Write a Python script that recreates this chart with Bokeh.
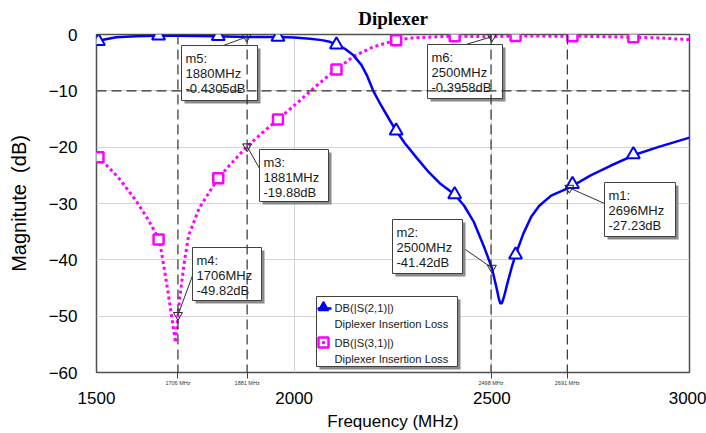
import numpy as np
from bokeh.plotting import figure
from bokeh.models import (Range1d, LinearAxis, FixedTicker, Span,
                          PrintfTickFormatter)
from bokeh.core.properties import value
from bokeh.embed import file_html
from bokeh.resources import INLINE

# ---------------- data ----------------
x_ticks = [1500, 2000, 2500, 3000]
y_ticks = [0, -10, -20, -30, -40, -50, -60]

# DB(|S(2,1)|)  (blue, solid, triangles)
s21_f = [1500, 1520, 1550, 1600, 1650, 1700, 1800, 1880, 1960, 2000, 2040, 2070,
         2090, 2107, 2130, 2150, 2170, 2185, 2200, 2220, 2240, 2258, 2280, 2310,
         2340, 2370, 2406, 2430, 2454, 2482, 2500, 2512, 2518, 2522, 2526, 2531,
         2540, 2550, 2560, 2580, 2600, 2620, 2650, 2696, 2750, 2800, 2860, 2920, 3000]
s21_db = [-1.3, -0.9, -0.5, -0.3, -0.2, -0.2, -0.3, -0.43, -0.45, -0.55, -0.75, -1.0,
          -1.3, -1.8, -2.6, -3.7, -5.4, -7.4, -10.0, -12.6, -15.0, -17.1, -19.3, -21.9,
          -24.4, -26.5, -28.4, -30.4, -33.2, -38.0, -41.4, -45.0, -47.0, -47.8, -47.6, -46.5,
          -44.0, -41.4, -39.1, -35.3, -32.3, -30.4, -28.6, -27.2, -25.0, -23.3, -21.4, -20.0, -18.3]

# DB(|S(3,1)|)  (magenta, dotted, squares)
s31_f = [1500, 1530, 1560, 1600, 1630, 1659, 1670, 1680, 1690, 1700, 1706, 1712,
         1722, 1733, 1760, 1808, 1850, 1881, 1920, 1959, 2000, 2050, 2080, 2107,
         2150, 2200, 2258, 2300, 2400, 2500, 2560, 2650, 2704, 2800, 2858, 2920, 3000]
s31_db = [-21.8, -23.5, -25.8, -29.5, -32.8, -36.4, -41.0, -45.3, -50.0, -54.7, -49.8, -46.0,
          -40.5, -35.7, -30.8, -25.5, -22.2, -19.9, -17.4, -15.1, -12.6, -9.5, -7.7, -6.2,
          -3.9, -2.2, -1.0, -0.6, -0.3, -0.4, -0.25, -0.3, -0.3, -0.4, -0.5, -0.6, -0.9]

# symbol positions on the traces
sym_f = [1505, 1657, 1808, 1959, 2107, 2258, 2406, 2560, 2704, 2858]
s21_sym_db = [-1.2, -0.2, -0.3, -0.45, -1.8, -17.1, -28.4, -39.1, -26.6, -21.3]
s31_sym_db = [-21.8, -36.4, -25.5, -15.1, -6.2, -1.0, -0.3, -0.25, -0.3, -0.5]

# markers
mk_names = ["m1", "m2", "m3", "m4", "m5", "m6"]
mk_f = [2696, 2500, 1881, 1706, 1880, 2500]
mk_db = [-27.23, -41.42, -19.88, -49.82, -0.4305, -0.3958]

# vertical marker lines
mline_f = [1706, 1881, 2498, 2691]
hline_db = [-10]

legend_names = ["DB(|S(2,1)|)", "DB(|S(3,1)|)"]
legend_desc = ["Diplexer Insertion Loss", "Diplexer Insertion Loss"]

# ---------------- layout (pixels) ----------------
W, H = 706, 433
FR_L, FR_R, FR_T, FR_B = 96, 689, 34, 372
X0, X1, Y0, Y1 = 1500, 3000, -60, 0


def dx(px):
    return X0 + (px - FR_L) * (X1 - X0) / (FR_R - FR_L)


def dy(py):
    return Y1 - (py - FR_T) * (Y1 - Y0) / (FR_B - FR_T)


# box (left, top, right, bottom) and leader start point, in screen px
box_layout = {
    "m1": ((604, 182, 675, 236), (604, 203)),
    "m2": ((392, 219, 462, 273), (462, 247)),
    "m3": ((259, 149, 328, 201), (259, 168)),
    "m4": ((192, 247, 261, 300), (192, 275)),
    "m5": ((181, 45, 257, 100), (220, 46)),
    "m6": ((427, 44, 502, 98), (462, 45)),
}

BLUE = "#0000ff"
MAG = "#ff00ff"
FONT = "Liberation Sans"

p = figure(width=W, height=H, x_range=Range1d(X0, X1), y_range=Range1d(Y0, Y1),
           output_backend="svg", toolbar_location=None,
           min_border_left=FR_L, min_border_right=W - FR_R,
           min_border_top=FR_T, min_border_bottom=H - FR_B)
p.background_fill_color = "white"
p.border_fill_color = "white"
p.outline_line_color = "#505050"
p.outline_line_width = 1.5

# title
p.title.text = "Diplexer"
p.title.align = "center"
p.title.vertical_align = "top"
p.title.text_font = "Liberation Serif"
p.title.text_font_size = "19px"
p.title.text_font_style = "bold"
p.title.text_color = "black"
p.title.standoff = 8

# y axis
ya = p.left[0]
ya.ticker = FixedTicker(ticks=y_ticks, minor_ticks=[])
ya.major_tick_out = 0
ya.major_tick_in = 0
ya.minor_tick_line_color = None
ya.axis_line_color = None
ya.major_label_standoff = 19
ya.major_label_text_font = FONT
ya.major_label_text_font_size = "17px"
ya.major_label_text_color = "black"
ya.axis_label = "Magnitute\u00a0\u00a0(dB)"
ya.axis_label_text_font = FONT
ya.axis_label_text_font_size = "20px"
ya.axis_label_text_font_style = "normal"
ya.axis_label_text_color = "black"
ya.axis_label_standoff = 16

# marker-line axis (right under the frame)
xa = p.below[0]
xa.ticker = FixedTicker(ticks=mline_f, minor_ticks=[])
xa.formatter = PrintfTickFormatter(format="%d MHz")
xa.major_tick_out = 6
xa.major_tick_in = 0
xa.major_tick_line_color = "#404040"
xa.minor_tick_line_color = None
xa.axis_line_color = None
xa.major_label_standoff = 1
xa.major_label_text_font = FONT
xa.major_label_text_font_size = "5.5px"
xa.major_label_text_color = "#333333"

# main frequency axis
xm = LinearAxis(ticker=FixedTicker(ticks=x_ticks, minor_ticks=[]))
xm.major_tick_out = 0
xm.major_tick_in = 0
xm.minor_tick_line_color = None
xm.axis_line_color = None
xm.major_label_standoff = 3
xm.major_label_text_font = FONT
xm.major_label_text_font_size = "17px"
xm.major_label_text_color = "black"
xm.axis_label = "Frequency (MHz)"
xm.axis_label_text_font = FONT
xm.axis_label_text_font_size = "17px"
xm.axis_label_text_font_style = "normal"
xm.axis_label_text_color = "black"
xm.axis_label_standoff = 5
p.add_layout(xm, "below")

# grid
p.xgrid.ticker = FixedTicker(ticks=[2000, 2500], minor_ticks=[])
p.xgrid.grid_line_color = "#d4d4d4"
p.ygrid.ticker = FixedTicker(ticks=y_ticks, minor_ticks=[])
p.ygrid.grid_line_color = "#d4d4d4"

# marker lines
for f in mline_f:
    p.add_layout(Span(location=f, dimension="height", line_color="#303030",
                      line_width=1.2, line_dash="10 5"))
for d in hline_db:
    p.add_layout(Span(location=d, dimension="width", line_color="#303030",
                      line_width=1.2, line_dash="10 5"))

# traces
p.line(s31_f, s31_db, line_color=MAG, line_width=3, line_dash="3 3")
p.line(s21_f, s21_db, line_color=BLUE, line_width=2.5)
p.scatter(sym_f, s31_sym_db, marker="square", size=10, line_color=MAG,
          line_width=2.5, fill_color="white")
p.scatter(sym_f, s21_sym_db, marker="triangle", size=13, line_color=BLUE,
          line_width=2, fill_color="white")

# marker triangles and annotation boxes
p.scatter(mk_f, mk_db, marker="inverted_triangle", size=9, line_color="#202020",
          line_width=1, fill_color=None)

sh_l, sh_r, sh_t, sh_b = [], [], [], []
bx_l, bx_r, bx_t, bx_b = [], [], [], []
ld_x0, ld_y0, ld_x1, ld_y1 = [], [], [], []
tx, ty, tt = [], [], []
for name, f, d in zip(mk_names, mk_f, mk_db):
    (l, t, r, b), (ax, ay) = box_layout[name]
    sh_l.append(dx(l + 3)); sh_r.append(dx(r + 3)); sh_t.append(dy(t + 3)); sh_b.append(dy(b + 3))
    bx_l.append(dx(l)); bx_r.append(dx(r)); bx_t.append(dy(t)); bx_b.append(dy(b))
    ld_x0.append(dx(ax)); ld_y0.append(dy(ay)); ld_x1.append(f); ld_y1.append(d)
    lines = [name + ":", "%dMHz" % f, repr(d) + "dB"]
    for i, s in enumerate(lines):
        tx.append(dx(l + 4))
        ty.append(dy(t + 13 + 15 * i))
        tt.append(s)

p.segment(ld_x0, ld_y0, ld_x1, ld_y1, line_color="#303030", line_width=1)
p.quad(left=sh_l, right=sh_r, top=sh_t, bottom=sh_b, fill_color="#8a8a8a", line_color=None)
p.quad(left=bx_l, right=bx_r, top=bx_t, bottom=bx_b, fill_color="white",
       line_color="#404040", line_width=1)
p.text(tx, ty, text=tt, text_font=value(FONT), text_font_size=value("13px"),
       text_color="#1a1a1a", text_baseline="middle", text_align="left")

# legend
lg = (316, 296, 457, 366)
p.quad(left=[dx(lg[0] + 3)], right=[dx(lg[2] + 3)], top=[dy(lg[1] + 3)], bottom=[dy(lg[3] + 3)],
       fill_color="#8a8a8a", line_color=None)
p.quad(left=[dx(lg[0])], right=[dx(lg[2])], top=[dy(lg[1])], bottom=[dy(lg[3])],
       fill_color="white", line_color="#404040", line_width=1)
p.line([dx(317), dx(331)], [dy(308), dy(308)], line_color=BLUE, line_width=2.5)
p.scatter([dx(323)], [dy(307)], marker="triangle", size=10, line_color=BLUE,
          fill_color=BLUE, line_width=1.5)
p.scatter([dx(323)], [dy(342)], marker="square", size=10, line_color=MAG,
          fill_color="white", line_width=2.5)
p.scatter([dx(323)], [dy(342)], marker="square", size=2, line_color=MAG,
          fill_color=MAG, line_width=1)
lx, ly, lt = [], [], []
for i, (n, ds) in enumerate(zip(legend_names, legend_desc)):
    lx += [dx(334), dx(334)]
    ly += [dy(307 + 35 * i), dy(323 + 35 * i)]
    lt += [n, ds]
p.text(lx, ly, text=lt, text_font=value(FONT), text_font_size=value("11.2px"),
       text_color="#1a1a1a", text_baseline="middle", text_align="left")

open("out.html", "w").write(file_html(p, INLINE))
